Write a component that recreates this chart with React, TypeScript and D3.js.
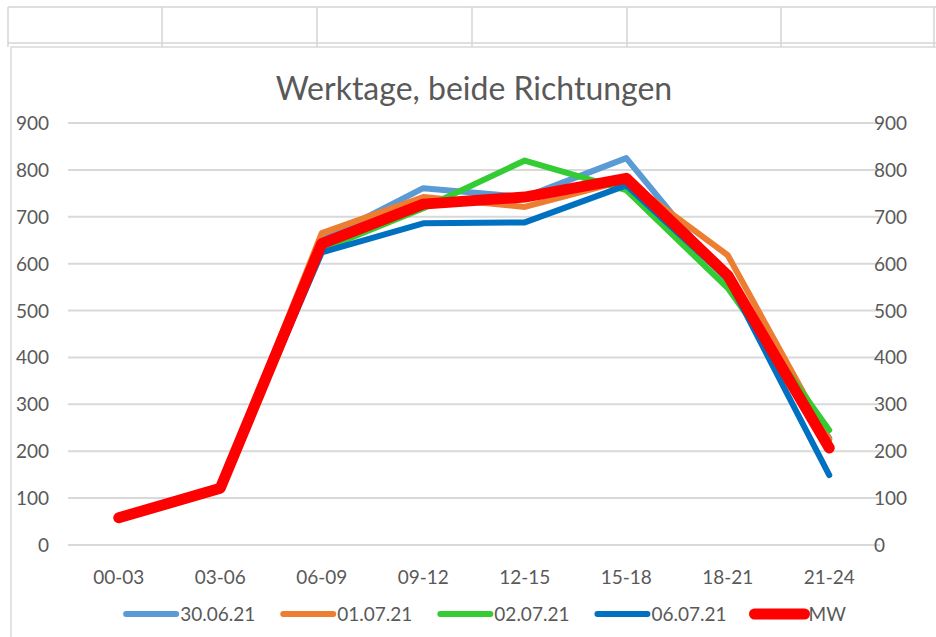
import { useEffect, useRef } from 'react';
import * as d3 from 'd3';

const categories = ['00-03', '03-06', '06-09', '09-12', '12-15', '15-18', '18-21', '21-24'];
const yTicks = [0, 100, 200, 300, 400, 500, 600, 700, 800, 900];

const s3006 = [55, 120, 650, 761, 742, 825, 562, 228];
const s0107 = [60, 122, 665, 742, 721, 778, 618, 225];
const s0207 = [57, 120, 630, 718, 820, 757, 548, 245];
const s0607 = [58, 121, 624, 686, 688, 767, 568, 149];
const sMW = [58, 121, 643, 727, 742, 782, 575, 207];

const seriesNames = ['30.06.21', '01.07.21', '02.07.21', '06.07.21', 'MW'];
const seriesValues = [s3006, s0107, s0207, s0607, sMW];
const seriesColors = ['#5b9bd5', '#ed7d31', '#33cc33', '#0070c0', '#ff0000'];

const FONT = 'Lato, "Open Sans", sans-serif';
const TEXT = '#595959';

export default function App() {
  const svgRef = useRef<SVGSVGElement>(null);

  useEffect(() => {
    if (!svgRef.current) return;
    const svg = d3.select(svgRef.current);
    svg.selectAll('*').remove();

    const width = 936;
    const height = 637;

    svg.append('rect').attr('width', width).attr('height', height).attr('fill', '#fff');

    // spreadsheet cells behind the chart
    const cells = svg.append('g').attr('stroke', '#d4d4d4').attr('stroke-width', 1.5);
    cells.append('line').attr('x1', 8).attr('x2', width).attr('y1', 7).attr('y2', 7);
    cells.append('line').attr('x1', 8).attr('x2', width).attr('y1', 43).attr('y2', 43);
    [8, 162, 317, 472, 627, 781, 934].forEach((x) => {
      cells.append('line').attr('x1', x).attr('x2', x).attr('y1', 7).attr('y2', 47);
    });

    // chart area frame
    svg
      .append('rect')
      .attr('x', 11)
      .attr('y', 47)
      .attr('width', width)
      .attr('height', height)
      .attr('fill', '#fff')
      .attr('stroke', '#d9d9d9')
      .attr('stroke-width', 1.5);

    const x = d3.scaleBand<string>().domain(categories).range([68, 880]);
    const y = d3.scaleLinear().domain([0, 900]).range([545, 123]);
    const cx = (c: string) => (x(c) ?? 0) + x.bandwidth() / 2;

    // title
    svg
      .append('text')
      .attr('x', 474)
      .attr('y', 100)
      .attr('text-anchor', 'middle')
      .attr('fill', TEXT)
      .style('font-family', FONT)
      .style('font-size', '32px')
      .text('Werktage, beide Richtungen');

    // gridlines
    svg
      .append('g')
      .selectAll('line')
      .data(yTicks)
      .enter()
      .append('line')
      .attr('x1', 68)
      .attr('x2', 880)
      .attr('y1', (d) => y(d))
      .attr('y2', (d) => y(d))
      .attr('stroke', '#d9d9d9')
      .attr('stroke-width', 2);

    // y labels, left and right
    const labels = svg.append('g').attr('fill', TEXT).style('font-family', FONT).style('font-size', '19px');
    labels
      .selectAll('text.l')
      .data(yTicks)
      .enter()
      .append('text')
      .attr('class', 'l')
      .attr('x', 49)
      .attr('y', (d) => y(d) + 7)
      .attr('text-anchor', 'end')
      .text((d) => d);
    labels
      .selectAll('text.r')
      .data(yTicks)
      .enter()
      .append('text')
      .attr('class', 'r')
      .attr('x', 874)
      .attr('y', (d) => y(d) + 7)
      .attr('text-anchor', 'start')
      .text((d) => d);

    // x labels
    labels
      .selectAll('text.x')
      .data(categories)
      .enter()
      .append('text')
      .attr('class', 'x')
      .attr('x', (d) => cx(d))
      .attr('y', 584)
      .attr('text-anchor', 'middle')
      .text((d) => d);

    // lines
    const line = d3
      .line<number>()
      .x((_, i) => cx(categories[i]))
      .y((d) => y(d));

    seriesValues.forEach((vals, i) => {
      const isMean = seriesNames[i] === 'MW';
      svg
        .append('path')
        .datum(vals)
        .attr('d', line)
        .attr('fill', 'none')
        .attr('stroke', seriesColors[i])
        .attr('stroke-width', isMean ? 11 : 6)
        .attr('stroke-linejoin', 'round')
        .attr('stroke-linecap', 'round');
    });

    // legend, laid out from measured text widths
    const legend = svg.append('g').style('font-family', FONT).style('font-size', '19px');
    const swatch = 50;
    const gap = 4;
    const spacing = 28;
    const items = seriesNames.map((name, i) => {
      const g = legend.append('g');
      const isMean = name === 'MW';
      g.append('line')
        .attr('x1', 0)
        .attr('x2', swatch)
        .attr('y1', 0)
        .attr('y2', 0)
        .attr('stroke', seriesColors[i])
        .attr('stroke-width', isMean ? 11 : 6)
        .attr('stroke-linecap', 'round');
      const t = g
        .append('text')
        .attr('x', swatch + gap)
        .attr('y', 7)
        .attr('fill', TEXT)
        .text(name);
      const w = swatch + gap + (t.node() as SVGTextElement).getComputedTextLength();
      return { g, w };
    });
    const total = d3.sum(items, (d) => d.w) + spacing * (items.length - 1);
    let pos = 486 - total / 2;
    items.forEach((it) => {
      it.g.attr('transform', `translate(${pos},614)`);
      pos += it.w + spacing;
    });
  }, []);

  return (
    <div style={{ position: 'fixed', left: 0, top: 0 }}>
      <svg ref={svgRef} width={936} height={637} style={{ display: 'block' }}></svg>
    </div>
  );
}
